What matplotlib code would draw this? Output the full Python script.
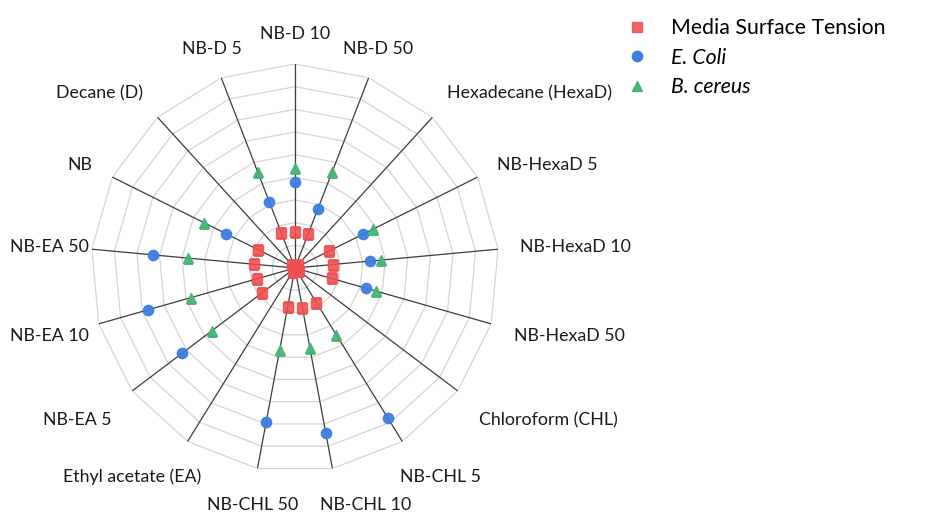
import numpy as np
import matplotlib
matplotlib.use("Agg")
import matplotlib.pyplot as plt
from matplotlib.lines import Line2D
from matplotlib.transforms import offset_copy

plt.rcParams['font.family'] = ['Lato', 'DejaVu Sans']

# categories, clockwise from the top spoke
categories = ['NB-D 10', 'NB-D 50', 'Hexadecane (HexaD)', 'NB-HexaD 5', 'NB-HexaD 10',
              'NB-HexaD 50', 'Chloroform (CHL)', 'NB-CHL 5', 'NB-CHL 10', 'NB-CHL 50',
              'Ethyl acetate (EA)', 'NB-EA 5', 'NB-EA 10', 'NB-EA 50', 'NB',
              'Decane (D)', 'NB-D 5']

media_tension = [15.9, 16.1, 2.0, 17.0, 16.8, 16.8, 2.0, 18.0, 17.9, 17.5,
                 2.0, 18.1, 17.6, 18.1, 18.1, 2.0, 16.8]
e_coli = [37.8, 28.0, np.nan, 33.3, 33.1, 32.4, np.nan, 78.0, 74.2, 68.9,
          np.nan, 62.5, 67.5, 62.7, 34.0, np.nan, 31.4]
b_cereus = [44.2, 45.3, np.nan, 38.4, 38.3, 37.3, np.nan, 34.8, 36.0, 36.8,
            np.nan, 45.9, 47.6, 47.2, 44.9, np.nan, 45.2]

series_names = ['Media Surface Tension', 'E. Coli', 'B. cereus']
rings = [10, 20, 30, 40, 50, 60, 70, 80, 90]
r_max = 90

n = len(categories)
angles = np.linspace(0, 2 * np.pi, n, endpoint=False)
closed = np.append(angles, angles[0])

fig = plt.figure(figsize=(9.34, 5.13), dpi=100)
ax = fig.add_axes([0.0974, 0.0799, 0.4368, 0.7953], projection='polar')
ax.set_theta_zero_location('N')
ax.set_theta_direction(-1)
ax.set_ylim(0, r_max)
ax.set_xticks([])
ax.set_yticks([])
ax.grid(False)
ax.spines['polar'].set_visible(False)
ax.patch.set_visible(False)

# polygon rings and spokes
for lvl in rings:
    ax.plot(closed, [lvl] * (n + 1), color='#d4d4d4', lw=0.9, zorder=1)
for a in angles:
    ax.plot([a, a], [0, r_max], color='#3c3c3c', lw=0.9, zorder=2)

# markers
ax.plot(angles, media_tension, 's', ls='none', ms=6.8, color='#f04e4e', alpha=0.88, zorder=3)
ax.plot(angles, e_coli, 'o', ls='none', ms=7.4, color='#3b7fe0', alpha=0.95, zorder=4)
ax.plot(angles, b_cereus, '^', ls='none', ms=7.4, color='#47b478', alpha=0.95, zorder=5)

# category labels: start centred on the outer vertex, then push out
texts = [ax.text(a, r_max, name, ha='center', va='center', fontsize=12.8, color='#1a1a1a')
         for a, name in zip(angles, categories)]
fig.canvas.draw()
renderer = fig.canvas.get_renderer()
shifts = []
for t, a in zip(texts, angles):
    bb = t.get_window_extent(renderer)
    ux, uy = np.sin(a), np.cos(a)
    gap = 22 + 7 * max(0.0, -uy)
    cx = np.sign(ux) * np.clip((abs(ux) - 0.35) / 0.3, 0, 1)
    if uy >= 0:
        cy = np.clip((uy - 0.35) / 0.3, 0, 1)
    else:
        cy = -np.clip((-uy - 0.2) / 0.3, 0, 1)
    dx = gap * ux + bb.width / 2 * cx
    dy = gap * uy + bb.height / 2 * cy
    # lower side labels sit a little further down
    dy -= 14 * max(0.0, -uy) * (1 - uy ** 2)
    left = bb.x0 + dx
    if left < 10:
        dx += 10 - left
    shifts.append([dx, dy])

# keep neighbouring labels apart
boxes = [t.get_window_extent(renderer).translated(dx, dy) for t, (dx, dy) in zip(texts, shifts)]
for i in range(n):
    j = (i + 1) % n
    bi, bj = boxes[i], boxes[j]
    if bi.overlaps(bj):
        right = i if bi.x0 > bj.x0 else j
        other = j if right == i else i
        need = boxes[other].x1 + 22 - boxes[right].x0
        shifts[right][0] += need
        boxes[right] = boxes[right].translated(need, 0)

for t, (dx, dy) in zip(texts, shifts):
    t.set_transform(offset_copy(ax.transData, fig=fig, x=dx, y=dy, units='dots'))

handles = [Line2D([], [], marker='s', ls='none', ms=6.8, color='#f04e4e', alpha=0.88),
           Line2D([], [], marker='o', ls='none', ms=7.4, color='#3b7fe0'),
           Line2D([], [], marker='^', ls='none', ms=7.4, color='#47b478')]
leg = fig.legend(handles, series_names, loc='upper left', bbox_to_anchor=(0.659, 0.985),
                 frameon=False, fontsize=15.3, handlelength=1.0, handletextpad=1.1,
                 labelspacing=0.45, borderpad=0)
for txt in leg.get_texts()[1:]:
    txt.set_style('italic')

fig.savefig('out.png', dpi=100)
